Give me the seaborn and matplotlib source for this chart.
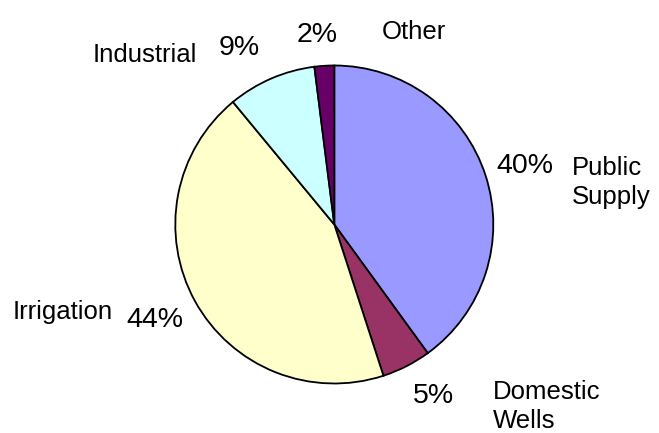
import matplotlib
matplotlib.use("Agg")
import matplotlib.pyplot as plt
import seaborn as sns

categories = ["Public\nSupply", "Domestic\nWells", "Irrigation", "Industrial", "Other"]
shares = [40, 5, 44, 9, 2]
pct_labels = ["40%", "5%", "44%", "9%", "2%"]
colors = ["#9999FF", "#993366", "#FFFFCC", "#CCFFFF", "#660066"]

sns.set_theme(style="white")
plt.rcParams["font.family"] = ["Liberation Sans", "DejaVu Sans"]

fig = plt.figure(figsize=(6.59, 4.33), dpi=100)
ax = fig.add_axes([0, 0, 1, 1])

# work in pixel units, y going up
H = 433
ax.pie(shares, colors=sns.color_palette(colors), startangle=90, counterclock=False,
       center=(334.3, H - 224.5), radius=159,
       wedgeprops=dict(edgecolor="black", linewidth=1.3))
ax.set_xlim(0, 659)
ax.set_ylim(0, H)
ax.set_aspect("equal")
ax.axis("off")

# label positions: (left x, baseline y) in pixels from top-left
pct_pos = [(496, 173), (413, 403), (126, 327), (219, 55), (297, 42)]
name_pos = [(572, 175), (493, 399), (13, 319), (93, 62), (382, 39)]

for txt, (x, y) in zip(pct_labels, pct_pos):
    ax.text(x, H - y, txt, fontsize=20.5, ha="left", va="baseline", color="black")

for txt, (x, y) in zip(categories, name_pos):
    for i, line in enumerate(txt.split("\n")):
        ax.text(x, H - y - i * 29, line, fontsize=18.5, ha="left", va="baseline", color="black")

fig.savefig("out.png", dpi=100)
